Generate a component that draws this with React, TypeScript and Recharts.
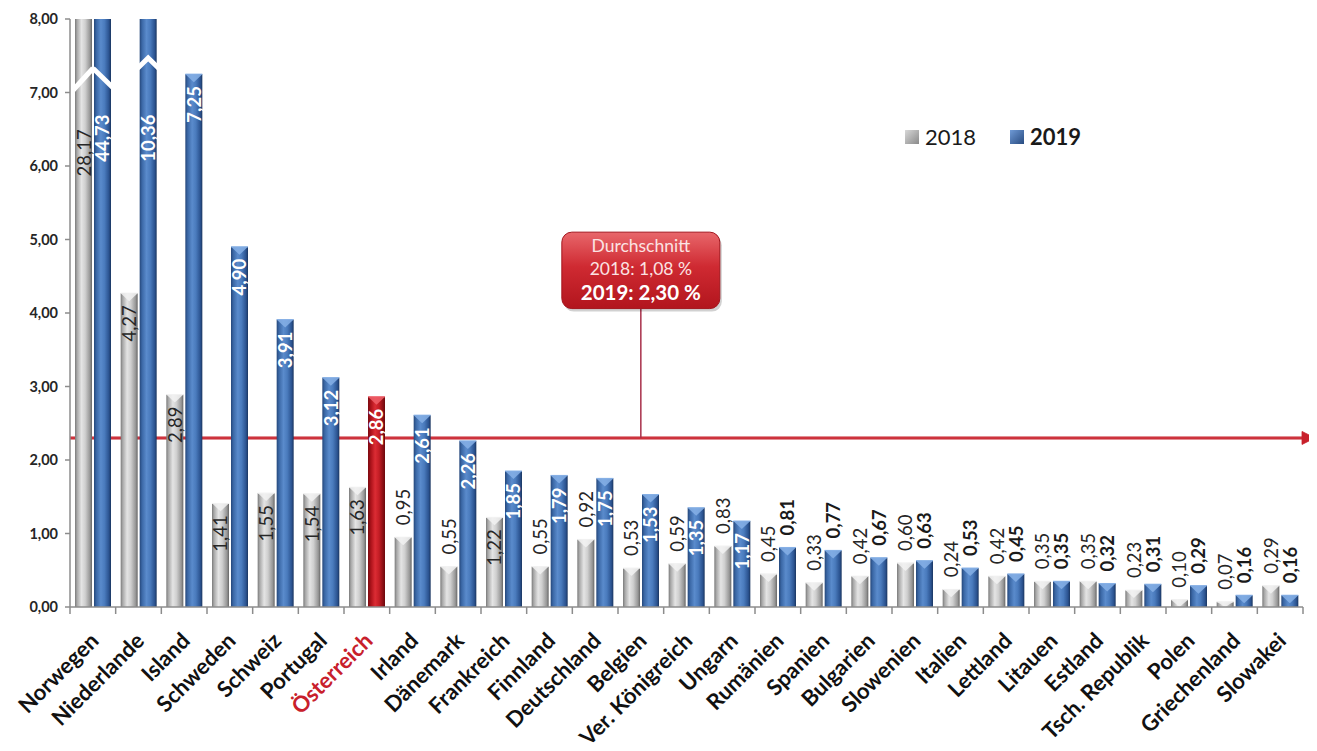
import React from 'react';
import { BarChart, Bar, XAxis, YAxis, ReferenceLine } from 'recharts';

const categories = [
  'Norwegen', 'Niederlande', 'Island', 'Schweden', 'Schweiz', 'Portugal', 'Österreich',
  'Irland', 'Dänemark', 'Frankreich', 'Finnland', 'Deutschland', 'Belgien', 'Ver. Königreich',
  'Ungarn', 'Rumänien', 'Spanien', 'Bulgarien', 'Slowenien', 'Italien', 'Lettland', 'Litauen',
  'Estland', 'Tsch. Republik', 'Polen', 'Griechenland', 'Slowakei',
];
const values2018 = [
  28.17, 4.27, 2.89, 1.41, 1.55, 1.54, 1.63, 0.95, 0.55, 1.22, 0.55, 0.92, 0.53, 0.59,
  0.83, 0.45, 0.33, 0.42, 0.6, 0.24, 0.42, 0.35, 0.35, 0.23, 0.1, 0.07, 0.29,
];
const values2019 = [
  44.73, 10.36, 7.25, 4.9, 3.91, 3.12, 2.86, 2.61, 2.26, 1.85, 1.79, 1.75, 1.53, 1.35,
  1.17, 0.81, 0.77, 0.67, 0.63, 0.53, 0.45, 0.35, 0.32, 0.31, 0.29, 0.16, 0.16,
];
const yTicks = [0, 1, 2, 3, 4, 5, 6, 7, 8];
const seriesNames = ['2018', '2019'];
const average2018 = 1.08;
const average2019 = 2.3;
const highlight = 'Österreich';
const calloutCategory = 'Belgien';

const data = categories.map((name, i) => ({ name, v2018: values2018[i], v2019: values2019[i] }));

const FONT = 'Lato, "Open Sans", sans-serif';
const CHART_W = 1309;
const CHART_H = 743;
const M_TOP = 11;
const M_RIGHT = 14;
const YAXIS_W = 62;
const XAXIS_H = 144;
const Y_MAX = 8;
const PLOT_LEFT = YAXIS_W;
const PLOT_W = CHART_W - M_RIGHT - YAXIS_W;
const PLOT_BOTTOM = CHART_H - XAXIS_H;
const PLOT_H = PLOT_BOTTOM - M_TOP;
const BAND = PLOT_W / categories.length;

const fmt = (v: number) => v.toFixed(2).replace('.', ',');

function makeShape(series: '2018' | '2019') {
  return (props: any) => {
    const { x, width, background, payload, value } = props;
    const bgY = background && typeof background.y === 'number' ? background.y : M_TOP;
    const bgH = background && typeof background.height === 'number' ? background.height : PLOT_H;
    const base = bgY + bgH;
    const yOf = (v: number) => base - (v / Y_MAX) * bgH;
    const v = Number(value);
    const clipped = v > Y_MAX;
    const top = clipped ? bgY : yOf(v);
    const h = Math.max(0, base - top);
    const isHL = payload && payload.name === highlight;
    const fill = series === '2018' ? 'url(#gGray)' : isHL ? 'url(#gRed)' : 'url(#gBlue)';
    const capFill = series === '2018' ? '#f2f2f2' : isHL ? '#f0606a' : '#86b0e6';
    const capH = Math.min(8, h);
    const cx = x + width / 2;
    const inside = clipped || v >= 1.0;
    let ay: number;
    if (clipped) ay = yOf(series === '2018' ? 6.5 : 6.7);
    else ay = inside ? top + 12 : top - 12;
    const labelFill = series === '2018' ? '#262626' : inside ? '#ffffff' : '#1a1a1a';
    const bothClipped = payload && payload.v2018 > Y_MAX && payload.v2019 > Y_MAX;

    let breakMark: React.ReactNode = null;
    if (clipped) {
      let pts = '';
      if (bothClipped && series === '2018') {
        pts = `${x - 4},${yOf(7.0)} ${x + width + 1},${yOf(7.33)}`;
      } else if (bothClipped && series === '2019') {
        pts = `${x - 1},${yOf(7.33)} ${x + width + 3},${yOf(7.05)}`;
      } else {
        pts = `${x - 2},${yOf(7.33)} ${cx},${yOf(7.47)} ${x + width + 2},${yOf(7.33)}`;
      }
      breakMark = (
        <polyline points={pts} fill="none" stroke="#ffffff" strokeWidth={5} strokeLinejoin="miter" />
      );
    }

    return (
      <g>
        <rect x={x} y={top} width={width} height={h} fill={fill} />
        {!clipped && h > 1 && (
          <>
            <polygon
              points={`${x},${top} ${x + width},${top} ${cx},${top + capH}`}
              fill={capFill}
              opacity={0.85}
            />
            <line x1={x} y1={top} x2={x + width} y2={top} stroke={capFill} strokeWidth={1} />
          </>
        )}
        {breakMark}
        <text
          x={cx}
          y={ay}
          transform={`rotate(-90 ${cx} ${ay})`}
          textAnchor={inside ? 'end' : 'start'}
          dominantBaseline="central"
          fontFamily={FONT}
          fontSize={18.5}
          fontWeight={series === '2019' ? 700 : 400}
          fill={labelFill}
        >
          {fmt(v)}
        </text>
      </g>
    );
  };
}

const XTick = (props: any) => {
  const { x, payload, index } = props;
  const name = payload.value as string;
  const lx = x - 4;
  const ly = PLOT_BOTTOM + 24;
  return (
    <g>
      <line x1={x - BAND / 2} y1={PLOT_BOTTOM} x2={x - BAND / 2} y2={PLOT_BOTTOM + 7} stroke="#8c8c8c" strokeWidth={1.5} />
      {index === categories.length - 1 && (
        <line x1={x + BAND / 2} y1={PLOT_BOTTOM} x2={x + BAND / 2} y2={PLOT_BOTTOM + 7} stroke="#8c8c8c" strokeWidth={1.5} />
      )}
      <text
        x={lx}
        y={ly}
        dy="0.72em"
        transform={`rotate(-45 ${lx} ${ly})`}
        textAnchor="end"
        fontFamily={FONT}
        fontSize={22}
        fontWeight={700}
        fill={name === highlight ? '#C8202B' : '#111111'}
      >
        {name}
      </text>
    </g>
  );
};

const AverageShape = (props: any) => {
  const { x1, y1, x2 } = props;
  const pxPerUnit = PLOT_H / Y_MAX;
  const idx = categories.indexOf(calloutCategory);
  const ccx = PLOT_LEFT + BAND * (idx + 0.5);
  const boxBottom = y1 - (4.06 - average2019) * pxPerUnit;
  const boxTop = y1 - (5.1 - average2019) * pxPerUnit;
  const boxW = 158;
  const boxH = boxBottom - boxTop;
  const tip = x2 + 12;
  return (
    <g>
      <line x1={x1} y1={y1} x2={x2 + 1} y2={y1} stroke="#C8202B" strokeWidth={3} />
      <line x1={x1} y1={y1} x2={x2 + 1} y2={y1} stroke="#e0707a" strokeWidth={0.8} opacity={0.6} />
      <polygon
        points={`${tip},${y1} ${tip - 13},${y1 - 6.5} ${tip - 13},${y1 + 6.5}`}
        fill="#C8202B"
        stroke="#C8202B"
        strokeWidth={0.8}
        strokeLinejoin="miter"
      />
      <line x1={ccx} y1={boxBottom} x2={ccx} y2={y1} stroke="#A8304A" strokeWidth={1.5} />
      <rect
        x={ccx - boxW / 2 + 2}
        y={boxTop + 3}
        width={boxW}
        height={boxH}
        rx={10}
        fill="#000"
        opacity={0.18}
      />
      <rect
        x={ccx - boxW / 2}
        y={boxTop}
        width={boxW}
        height={boxH}
        rx={10}
        fill="url(#gBox)"
        stroke="#a3141c"
        strokeWidth={1}
      />
      <text x={ccx} y={boxTop + 20} textAnchor="middle" fontFamily={FONT} fontSize={17.5} fill="#fbe3e3">
        Durchschnitt
      </text>
      <text x={ccx} y={boxTop + 43} textAnchor="middle" fontFamily={FONT} fontSize={17.5} fill="#fbe3e3">
        {`${seriesNames[0]}: ${fmt(average2018)} %`}
      </text>
      <text x={ccx} y={boxTop + 68} textAnchor="middle" fontFamily={FONT} fontSize={20.5} fontWeight={700} fill="#ffffff">
        {`${seriesNames[1]}: ${fmt(average2019)} %`}
      </text>
    </g>
  );
};

const LegendBox = () => (
  <div
    style={{
      position: 'absolute',
      left: 897,
      top: 115,
      display: 'flex',
      alignItems: 'center',
      fontFamily: FONT,
      fontSize: 22,
      color: '#1a1a1a',
    }}
  >
    <span style={{ display: 'inline-block', width: 14, height: 14, background: 'linear-gradient(135deg,#d8d8d8,#8a8a8a)', marginRight: 6 }} />
    <span style={{ marginRight: 34 }}>{seriesNames[0]}</span>
    <span style={{ display: 'inline-block', width: 14, height: 14, background: 'linear-gradient(135deg,#6f9ad6,#284b80)', marginRight: 6 }} />
    <span style={{ fontWeight: 700 }}>{seriesNames[1]}</span>
  </div>
);

export default function App() {
  return (
    <div style={{ position: 'relative', width: CHART_W, height: CHART_H, marginBottom: -8, overflow: 'visible' }}>
      <svg width={0} height={0} style={{ position: 'absolute' }}>
        <defs>
          <linearGradient id="gGray" x1="0" y1="0" x2="1" y2="0">
            <stop offset="0" stopColor="#7a7a7a" />
            <stop offset="0.12" stopColor="#a8a8a8" />
            <stop offset="0.38" stopColor="#e4e4e4" />
            <stop offset="0.6" stopColor="#cfcfcf" />
            <stop offset="0.88" stopColor="#969696" />
            <stop offset="1" stopColor="#666666" />
          </linearGradient>
          <linearGradient id="gBlue" x1="0" y1="0" x2="1" y2="0">
            <stop offset="0" stopColor="#25477a" />
            <stop offset="0.14" stopColor="#3b68a6" />
            <stop offset="0.4" stopColor="#5a8bcc" />
            <stop offset="0.62" stopColor="#4a7bbd" />
            <stop offset="0.88" stopColor="#2b5390" />
            <stop offset="1" stopColor="#1a355f" />
          </linearGradient>
          <linearGradient id="gRed" x1="0" y1="0" x2="1" y2="0">
            <stop offset="0" stopColor="#7a0a10" />
            <stop offset="0.18" stopColor="#ae131b" />
            <stop offset="0.42" stopColor="#dc2c34" />
            <stop offset="0.65" stopColor="#c41d25" />
            <stop offset="1" stopColor="#6c080c" />
          </linearGradient>
          <linearGradient id="gBox" x1="0" y1="0" x2="0" y2="1">
            <stop offset="0" stopColor="#e8676b" />
            <stop offset="0.45" stopColor="#cf2a32" />
            <stop offset="1" stopColor="#b2151d" />
          </linearGradient>
        </defs>
      </svg>
      <BarChart
        width={CHART_W}
        height={CHART_H}
        data={data}
        margin={{ top: M_TOP, right: M_RIGHT, bottom: 0, left: 0 }}
        barSize={17}
        barGap={2}
        style={{ overflow: 'visible' }}
      >
        <XAxis
          dataKey="name"
          interval={0}
          height={XAXIS_H}
          tickLine={false}
          axisLine={{ stroke: '#8c8c8c', strokeWidth: 1.5 }}
          tick={(p: any) => <XTick {...p} />}
        />
        <YAxis
          width={YAXIS_W}
          domain={[0, Y_MAX]}
          ticks={yTicks}
          allowDataOverflow
          tickFormatter={fmt}
          axisLine={{ stroke: '#8c8c8c', strokeWidth: 1.5 }}
          tickLine={{ stroke: '#8c8c8c', strokeWidth: 1.5 }}
          tickSize={5}
          tickMargin={7}
          tick={{ fontFamily: FONT, fontSize: 14.5, fontWeight: 700, fill: '#262626' }}
        />
        <ReferenceLine
          y={average2019}
          zIndex={100}
          ifOverflow="visible"
          shape={(p: any) => <AverageShape {...p} />}
        />
        <Bar dataKey="v2018" name={seriesNames[0]} isAnimationActive={false} shape={makeShape('2018')} />
        <Bar dataKey="v2019" name={seriesNames[1]} isAnimationActive={false} shape={makeShape('2019')} />
      </BarChart>
      <LegendBox />
    </div>
  );
}
